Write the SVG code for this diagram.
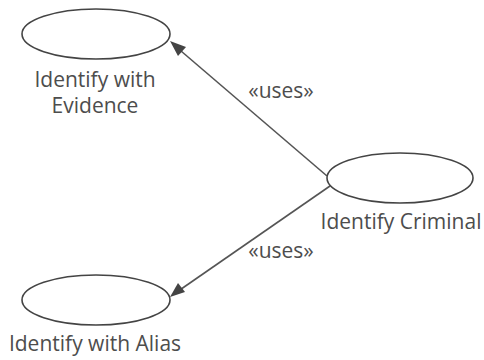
<svg xmlns="http://www.w3.org/2000/svg" width="484" height="360" viewBox="0 0 484 360">
<style>
.uc{fill:#fff;stroke:#444;stroke-width:1.6}
.t{font-family:"Open Sans",sans-serif;font-size:21px;fill:#4d4d4d;text-anchor:middle}
.c{stroke:#555;stroke-width:1.6;fill:none}
.ah{fill:#444}
</style>
<rect width="484" height="360" fill="#fff"/>
<g id="connectors">
<path class="c" d="M327,176 L174,45"/>
<path class="ah" d="M170,41 L186,47 L178,56 z"/>
<path class="c" d="M330,186 L174,294"/>
<path class="ah" d="M170,297 L178,283 L185,292 z"/>
<text class="t" x="281" y="98">«uses»</text>
<text class="t" x="281" y="258">«uses»</text>
</g>
<g id="evidence">
<ellipse class="uc" cx="96" cy="34" rx="74" ry="25"/>
<text class="t" x="95" y="87">Identify with</text>
<text class="t" x="95" y="113">Evidence</text>
</g>
<g id="criminal">
<ellipse class="uc" cx="400" cy="178" rx="73" ry="25"/>
<text class="t" x="401" y="229">Identify Criminal</text>
</g>
<g id="alias">
<ellipse class="uc" cx="96" cy="300" rx="74" ry="25"/>
<text class="t" x="95" y="351">Identify with Alias</text>
</g>
</svg>
